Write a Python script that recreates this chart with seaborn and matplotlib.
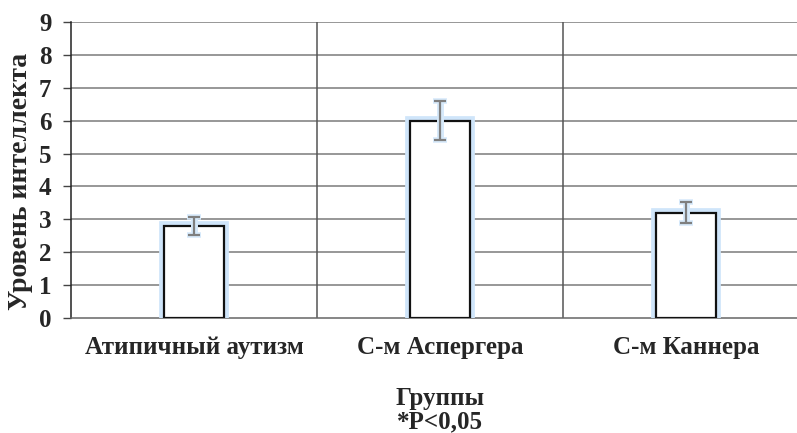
import matplotlib
matplotlib.use("Agg")
import matplotlib.pyplot as plt
import seaborn as sns
import pandas as pd
import numpy as np

categories = ["Атипичный аутизм", "С-м Аспергера", "С-м Каннера"]
values = [2.8, 6.0, 3.2]
errors = [0.28, 0.6, 0.32]
y_ticks = [0, 1, 2, 3, 4, 5, 6, 7, 8, 9]

df = pd.DataFrame({"group": categories, "value": values})

sns.set_theme(style="white")
plt.rcParams["font.family"] = ["Liberation Serif", "DejaVu Serif"]
plt.rcParams["font.weight"] = "bold"

W, H = 797, 433
fig = plt.figure(figsize=(W / 100, H / 100), dpi=100)
left, right, top, bottom = 71, 809, 22, 318
ax = fig.add_axes([left / W, 1 - bottom / H, (right - left) / W, (bottom - top) / H])

# glow
sns.barplot(data=df, x="group", y="value", ax=ax, width=0.24, color="white",
            edgecolor="#cfe5fa", linewidth=7, errorbar=None, zorder=3)
sns.barplot(data=df, x="group", y="value", ax=ax, width=0.24, color="white",
            edgecolor="#111111", linewidth=1.6, errorbar=None, zorder=4)
xs = np.arange(len(categories))
ax.errorbar(xs, values, yerr=errors, fmt="none", ecolor="#d6e9fa", elinewidth=5,
            capsize=5, capthick=4, zorder=5)
ax.errorbar(xs, values, yerr=errors, fmt="none", ecolor="#7f7f7f", elinewidth=1.6,
            capsize=4, capthick=1.6, zorder=6)

ax.set_xlim(-0.5, 2.5)
ax.set_ylim(0, 9)
ax.set_yticks(y_ticks)
ax.set_yticklabels([str(t) for t in y_ticks], fontsize=18, fontweight="bold")
for yv in y_ticks[1:]:
    ax.axhline(yv, color="#7a7a7a", linewidth=1.1, zorder=1)
for xv in [0.5, 1.5]:
    ax.axvline(xv, color="#555555", linewidth=1.1, zorder=1)

for s in ["top", "right"]:
    ax.spines[s].set_visible(False)
ax.spines["left"].set_color("#222222")
ax.spines["left"].set_linewidth(1.1)
ax.spines["bottom"].set_color("#666666")
ax.spines["bottom"].set_linewidth(1.1)
ax.tick_params(axis="y", left=True, length=6, width=1, color="#444444", pad=8)
ax.tick_params(axis="x", bottom=False, pad=7)
ax.set_xticks(xs)
ax.set_xticklabels(categories, fontsize=18, fontweight="bold")
ax.set_xlabel("Группы\n*P<0,05", fontsize=18, fontweight="bold", labelpad=20, linespacing=1.0)
ax.set_ylabel("Уровень интеллекта", fontsize=20, fontweight="bold")
ax.yaxis.set_label_coords(-0.052, 0.46)

fig.savefig("out.png", dpi=100)
